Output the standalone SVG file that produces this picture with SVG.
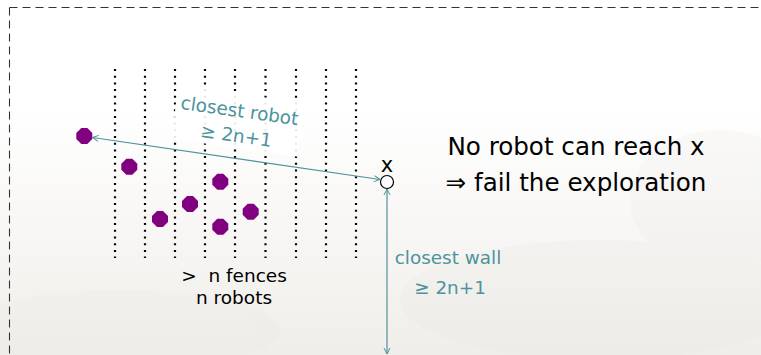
<svg xmlns="http://www.w3.org/2000/svg" width="761" height="355" viewBox="0 0 761 355">
<defs>
<linearGradient id="bg" x1="0" y1="0" x2="0" y2="1">
<stop offset="0" stop-color="#ffffff"/>
<stop offset="0.3" stop-color="#ffffff"/>
<stop offset="1" stop-color="#f0eeea"/>
</linearGradient>
<marker id="ah" viewBox="0 0 8 8" refX="7" refY="4" markerWidth="8" markerHeight="8" markerUnits="userSpaceOnUse" orient="auto-start-reverse">
<path d="M1,1 L7,4 L1,7" fill="none" stroke="#4d939c" stroke-width="1"/>
</marker>
</defs>
<style>
.fence{stroke:#000;stroke-width:2.2;stroke-dasharray:2 4.7;fill:none}
.robot{fill:#800080}
.conn{stroke:#4d939c;stroke-width:1.2;fill:none;marker-start:url(#ah);marker-end:url(#ah)}
.t{font-family:"DejaVu Sans","Liberation Sans",sans-serif}
.teal{fill:#4d939c;font-size:18.4px}
.blk{fill:#000}
</style>
<rect width="761" height="355" fill="url(#bg)"/>
<g opacity="0.15" fill="#e4e1dc">
<ellipse cx="120" cy="330" rx="160" ry="40"/>
<ellipse cx="600" cy="300" rx="200" ry="60"/>
<ellipse cx="720" cy="200" rx="90" ry="70"/>
</g>
<path d="M9.5,7.5 H761 M9.5,7.5 V355" stroke="#333" stroke-width="1.1" stroke-dasharray="8 5" fill="none"/>
<g id="fences">
<line class="fence" x1="115" y1="69" x2="115" y2="258"/>
<line class="fence" x1="145" y1="69" x2="145" y2="258"/>
<line class="fence" x1="175" y1="69" x2="175" y2="258"/>
<line class="fence" x1="205" y1="69" x2="205" y2="258"/>
<line class="fence" x1="235" y1="69" x2="235" y2="258"/>
<line class="fence" x1="265.5" y1="69" x2="265.5" y2="258"/>
<line class="fence" x1="296" y1="69" x2="296" y2="258"/>
<line class="fence" x1="326" y1="69" x2="326" y2="258"/>
<line class="fence" x1="356" y1="69" x2="356" y2="258"/>
</g>
<g id="robots">
<polygon class="robot" points="87.3,128 92.3,133 92.3,139 87.3,144 81.3,144 76.3,139 76.3,133 81.3,128"/>
<polygon class="robot" points="132.3,158.7 137.3,163.7 137.3,169.7 132.3,174.7 126.3,174.7 121.3,169.7 121.3,163.7 126.3,158.7"/>
<polygon class="robot" points="223.3,173.7 228.3,178.7 228.3,184.7 223.3,189.7 217.3,189.7 212.3,184.7 212.3,178.7 217.3,173.7"/>
<polygon class="robot" points="193,196 198,201 198,207 193,212 187,212 182,207 182,201 187,196"/>
<polygon class="robot" points="163,211 168,216 168,222 163,227 157,227 152,222 152,216 157,211"/>
<polygon class="robot" points="253.7,203.7 258.7,208.7 258.7,214.7 253.7,219.7 247.7,219.7 242.7,214.7 242.7,208.7 247.7,203.7"/>
<polygon class="robot" points="223.3,218.7 228.3,223.7 228.3,229.7 223.3,234.7 217.3,234.7 212.3,229.7 212.3,223.7 217.3,218.7"/>
</g>
<g id="target">
<circle cx="387" cy="182" r="6.5" fill="#fff" stroke="#000" stroke-width="1.2"/>
<text class="t blk" x="387" y="172" font-size="21" text-anchor="middle">x</text>
</g>
<g id="connectors">
<line class="conn" x1="92.5" y1="137.5" x2="380" y2="179.5"/>
<line class="conn" x1="387" y1="189" x2="387" y2="354"/>
</g>
<g id="robot-label" transform="translate(238,122) rotate(8)">
<rect x="-64" y="-28" width="128" height="54" fill="#fff" opacity="0.9"/>
<text class="t teal" x="0" y="-5" text-anchor="middle" font-size="19.5">closest robot</text>
<text class="t teal" x="0" y="20" text-anchor="middle" font-size="19.5">≥ 2n+1</text>
</g>
<g id="wall-label">
<text class="t teal" x="448" y="264" text-anchor="middle">closest wall</text>
<text class="t teal" x="450" y="294" text-anchor="middle" font-size="20">≥ 2n+1</text>
</g>
<g id="fence-label">
<text class="t blk" x="234" y="282" font-size="18.5" text-anchor="middle" xml:space="preserve">&gt;  n fences</text>
<text class="t blk" x="234" y="304" font-size="18.5" text-anchor="middle">n robots</text>
</g>
<g id="conclusion">
<text class="t blk" x="576" y="155" font-size="24.6" text-anchor="middle">No robot can reach x</text>
<text class="t blk" x="576" y="191" font-size="24.6" text-anchor="middle">⇒ fail the exploration</text>
</g>
</svg>
